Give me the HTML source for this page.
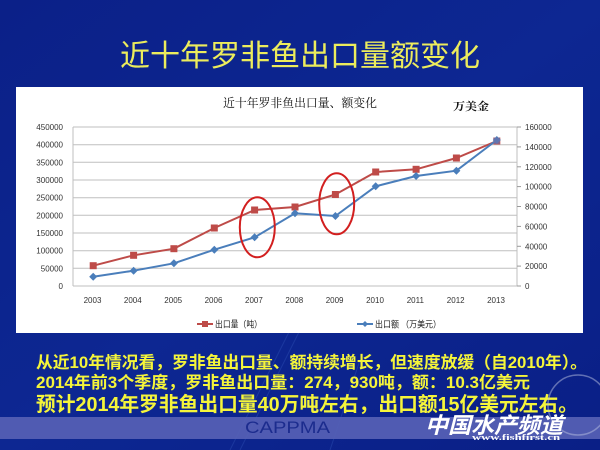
<!DOCTYPE html>
<html><head><meta charset="utf-8">
<style>
html,body{margin:0;padding:0;background:#0c238c;}
svg{display:block;}
</style></head>
<body>
<svg width="600" height="450" viewBox="0 0 600 450" xmlns="http://www.w3.org/2000/svg">
<defs>
<linearGradient id="bg" x1="0" y1="0" x2="1" y2="1">
<stop offset="0" stop-color="#0b2088"/>
<stop offset="0.5" stop-color="#0d2792"/>
<stop offset="1" stop-color="#0a1f86"/>
</linearGradient>
</defs>
<rect width="600" height="450" fill="url(#bg)"/>
<!-- faint rays -->
<g stroke="#2a4bb0" stroke-width="1" opacity="0.5">
<line x1="230" y1="450" x2="290" y2="330"/>
<line x1="240" y1="450" x2="300" y2="330"/>
<line x1="360" y1="360" x2="330" y2="450"/>
</g>

<!-- Title -->
<text x="300" y="66" text-anchor="middle" font-family="'Liberation Sans','Noto Sans CJK SC',sans-serif" font-size="30" fill="#ecec5c" textLength="360" lengthAdjust="spacingAndGlyphs">近十年罗非鱼出口量额变化</text>

<!-- Chart box -->
<rect x="16" y="87" width="567" height="246" fill="#ffffff"/>
<text x="223" y="107" font-family="'Liberation Serif','Noto Serif CJK SC',serif" font-size="12" fill="#111" textLength="154" lengthAdjust="spacingAndGlyphs">近十年罗非鱼出口量、额变化</text>
<text x="453" y="110" font-family="'Liberation Serif','Noto Serif CJK SC',serif" font-size="11" font-weight="bold" fill="#111" textLength="36" lengthAdjust="spacingAndGlyphs">万美金</text>

<!-- gridlines -->
<g stroke="#bfbfbf" stroke-width="1">
<line x1="73" y1="127" x2="517" y2="127"/>
<line x1="73" y1="144.7" x2="517" y2="144.7"/>
<line x1="73" y1="162.3" x2="517" y2="162.3"/>
<line x1="73" y1="180" x2="517" y2="180"/>
<line x1="73" y1="197.7" x2="517" y2="197.7"/>
<line x1="73" y1="215.3" x2="517" y2="215.3"/>
<line x1="73" y1="233" x2="517" y2="233"/>
<line x1="73" y1="250.7" x2="517" y2="250.7"/>
<line x1="73" y1="268.3" x2="517" y2="268.3"/>
<line x1="73" y1="286" x2="517" y2="286"/>
<line x1="73" y1="127" x2="73" y2="286"/>
<line x1="517" y1="127" x2="517" y2="286"/>
</g>
<g stroke="#999" stroke-width="1">
<line x1="517" y1="127" x2="521" y2="127"/>
<line x1="517" y1="146.9" x2="521" y2="146.9"/>
<line x1="517" y1="166.8" x2="521" y2="166.8"/>
<line x1="517" y1="186.6" x2="521" y2="186.6"/>
<line x1="517" y1="206.5" x2="521" y2="206.5"/>
<line x1="517" y1="226.4" x2="521" y2="226.4"/>
<line x1="517" y1="246.3" x2="521" y2="246.3"/>
<line x1="517" y1="266.1" x2="521" y2="266.1"/>
<line x1="517" y1="286" x2="521" y2="286"/>
</g>

<!-- left axis labels -->
<g font-family="'Liberation Sans',sans-serif" font-size="8" fill="#333" text-anchor="end">
<text x="63" y="130">450000</text>
<text x="63" y="147.7">400000</text>
<text x="63" y="165.3">350000</text>
<text x="63" y="183">300000</text>
<text x="63" y="200.7">250000</text>
<text x="63" y="218.3">200000</text>
<text x="63" y="236">150000</text>
<text x="63" y="253.7">100000</text>
<text x="63" y="271.3">50000</text>
<text x="63" y="289">0</text>
</g>
<!-- right axis labels -->
<g font-family="'Liberation Sans',sans-serif" font-size="8" fill="#333">
<text x="525" y="130">160000</text>
<text x="525" y="149.9">140000</text>
<text x="525" y="169.8">120000</text>
<text x="525" y="189.6">100000</text>
<text x="525" y="209.5">80000</text>
<text x="525" y="229.4">60000</text>
<text x="525" y="249.3">40000</text>
<text x="525" y="269.1">20000</text>
<text x="525" y="289">0</text>
</g>
<!-- x labels -->
<g font-family="'Liberation Sans',sans-serif" font-size="8" fill="#333" text-anchor="middle">
<text x="92.5" y="303">2003</text>
<text x="132.8" y="303">2004</text>
<text x="173.2" y="303">2005</text>
<text x="213.5" y="303">2006</text>
<text x="253.9" y="303">2007</text>
<text x="294.3" y="303">2008</text>
<text x="334.6" y="303">2009</text>
<text x="375" y="303">2010</text>
<text x="415.3" y="303">2011</text>
<text x="455.7" y="303">2012</text>
<text x="496" y="303">2013</text>
</g>

<!-- red series -->
<polyline fill="none" stroke="#be4b48" stroke-width="2" points="93.2,265.7 133.6,255.3 173.9,248.7 214.3,228 254.6,210 295,207 335.4,194.5 375.7,172 416.1,169.3 456.4,158 496.8,141"/>
<g fill="#be4b48">
<rect x="89.7" y="262.2" width="7" height="7"/>
<rect x="130.1" y="251.8" width="7" height="7"/>
<rect x="170.4" y="245.2" width="7" height="7"/>
<rect x="210.8" y="224.5" width="7" height="7"/>
<rect x="251.1" y="206.5" width="7" height="7"/>
<rect x="291.5" y="203.5" width="7" height="7"/>
<rect x="331.9" y="191" width="7" height="7"/>
<rect x="372.2" y="168.5" width="7" height="7"/>
<rect x="412.6" y="165.8" width="7" height="7"/>
<rect x="452.9" y="154.5" width="7" height="7"/>
<rect x="493.3" y="137.5" width="7" height="7"/>
</g>
<!-- blue series -->
<polyline fill="none" stroke="#4a7ebb" stroke-width="2" points="93.2,276.7 133.6,270.7 173.9,263.3 214.3,249.7 254.6,237.3 295,213.3 335.4,216 375.7,186.3 416.1,176 456.4,170.7 496.8,140"/>
<g fill="#4a7ebb">
<polygon points="93.2,272.7 97.2,276.7 93.2,280.7 89.2,276.7"/>
<polygon points="133.6,266.7 137.6,270.7 133.6,274.7 129.6,270.7"/>
<polygon points="173.9,259.3 177.9,263.3 173.9,267.3 169.9,263.3"/>
<polygon points="214.3,245.7 218.3,249.7 214.3,253.7 210.3,249.7"/>
<polygon points="254.6,233.3 258.6,237.3 254.6,241.3 250.6,237.3"/>
<polygon points="295,209.3 299,213.3 295,217.3 291,213.3"/>
<polygon points="335.4,212 339.4,216 335.4,220 331.4,216"/>
<polygon points="375.7,182.3 379.7,186.3 375.7,190.3 371.7,186.3"/>
<polygon points="416.1,172 420.1,176 416.1,180 412.1,176"/>
<polygon points="456.4,166.7 460.4,170.7 456.4,174.7 452.4,170.7"/>
<polygon points="496.8,136 500.8,140 496.8,144 492.8,140"/>
</g>
<rect x="493.5" y="137.5" width="6.5" height="6.5" fill="#7070a8" opacity="0.6"/>

<!-- ellipses -->
<ellipse cx="257.3" cy="227.3" rx="17.5" ry="30" fill="none" stroke="#d21f1f" stroke-width="2"/>
<ellipse cx="336.7" cy="203.8" rx="17.5" ry="30.5" fill="none" stroke="#d21f1f" stroke-width="2"/>

<!-- legend -->
<line x1="197" y1="324" x2="213" y2="324" stroke="#be4b48" stroke-width="2"/>
<rect x="202" y="321" width="6" height="6" fill="#be4b48"/>
<text x="215" y="327.5" font-family="'Liberation Sans','Noto Sans CJK SC',sans-serif" font-size="9" fill="#222" textLength="47" lengthAdjust="spacingAndGlyphs">出口量（吨）</text>
<line x1="357" y1="324" x2="373" y2="324" stroke="#4a7ebb" stroke-width="2"/>
<polygon points="365,321 368,324 365,327 362,324" fill="#4a7ebb"/>
<text x="375" y="327.5" font-family="'Liberation Sans','Noto Sans CJK SC',sans-serif" font-size="9" fill="#222" textLength="66" lengthAdjust="spacingAndGlyphs">出口额 （万美元）</text>

<!-- bottom text -->
<g font-family="'Liberation Sans','Noto Sans CJK SC',sans-serif" font-weight="bold" fill="#f5f53a">
<text x="36" y="368" font-size="16.5" textLength="551" lengthAdjust="spacingAndGlyphs">从近10年情况看，罗非鱼出口量、额持续增长，但速度放缓（自2010年）。</text>
<text x="36" y="388" font-size="16.5" textLength="494" lengthAdjust="spacingAndGlyphs">2014年前3个季度，罗非鱼出口量：274，930吨，额：10.3亿美元</text>
<text x="36" y="411" font-size="20" textLength="542" lengthAdjust="spacingAndGlyphs">预计2014年罗非鱼出口量40万吨左右，出口额15亿美元左右。</text>
</g>

<!-- band -->
<rect x="0" y="417" width="600" height="22" fill="#5862b6" opacity="0.9"/>
<text x="245" y="433" font-family="'Liberation Sans',sans-serif" font-size="17" fill="#1c2c8e" textLength="85" lengthAdjust="spacingAndGlyphs">CAPPMA</text>
<circle cx="578" cy="405" r="30" fill="none" stroke="#b8c0e0" stroke-width="1.5" opacity="0.5"/>
<text x="425" y="433" font-family="'Liberation Sans','Noto Sans CJK SC',sans-serif" font-size="22" font-weight="bold" font-style="italic" fill="#ffffff" textLength="138" lengthAdjust="spacingAndGlyphs">中国水产频道</text>
<text x="472" y="440" font-family="'Liberation Serif',serif" font-size="8" font-weight="bold" fill="#ffffff" textLength="88" lengthAdjust="spacingAndGlyphs">www.fishfirst.cn</text>
</svg>
</body></html>
